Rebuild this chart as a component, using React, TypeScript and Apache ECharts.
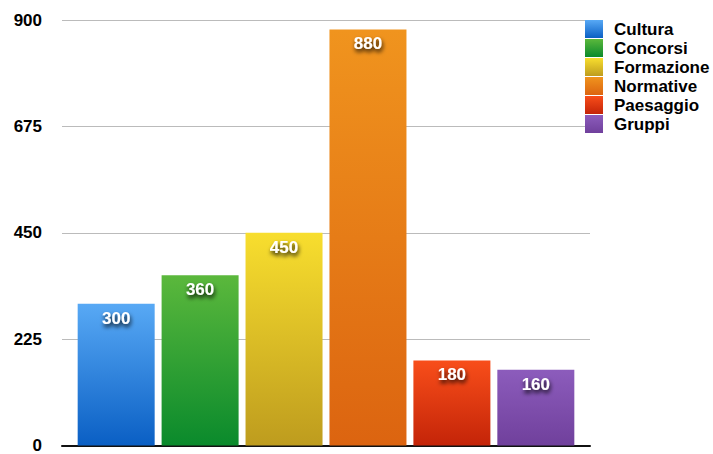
import React, { useEffect, useRef } from "react";
import * as echarts from "echarts";

const categories = ["Cultura", "Concorsi", "Formazione", "Normative", "Paesaggio", "Gruppi"];
const values = [300, 360, 450, 880, 180, 160];
const topColors = ["#58a9f5", "#5bb83c", "#f8de2e", "#f0941e", "#f84e1a", "#8c5cbc"];
const bottomColors = ["#0a5fc4", "#0a8a2c", "#be9c1e", "#dc6410", "#c42408", "#70409c"];
const yTicks = [0, 225, 450, 675, 900];

export default function App() {
  const ref = useRef<HTMLDivElement>(null);
  useEffect(() => {
    if (!ref.current) return;
    const chart = echarts.init(ref.current, undefined, { renderer: "svg" });
    const font = "'Liberation Sans', Arial, Helvetica, sans-serif";
    const series = categories.map((name, i) => ({
      name,
      type: "bar",
      data: [values[i]],
      barWidth: 77,
      barGap: "9%",
      itemStyle: {
        color: new echarts.graphic.LinearGradient(0, 0, 0, 1, [
          { offset: 0, color: topColors[i] },
          { offset: 1, color: bottomColors[i] },
        ]),
      },
      label: {
        show: true,
        position: "insideTop",
        distance: 6,
        color: "#ffffff",
        fontFamily: font,
        fontWeight: "bold",
        fontSize: 17,
        textShadowColor: "rgba(0,0,0,0.9)",
        textShadowBlur: 4,
        textShadowOffsetX: 1,
        textShadowOffsetY: 3,
      },
    }));
    chart.setOption({
      animation: false,
      backgroundColor: "#ffffff",
      grid: { left: 62, width: 528, top: 20, bottom: 2, containLabel: false },
      legend: {
        orient: "vertical",
        left: 585,
        top: 20,
        padding: 0,
        itemWidth: 18,
        itemHeight: 18,
        itemGap: 1,
        icon: "rect",
        data: categories,
        textStyle: {
          color: "#000",
          fontFamily: font,
          fontWeight: "bold",
          fontSize: 17,
          padding: [0, 0, 0, 6],
        },
      },
      xAxis: {
        type: "category",
        data: [""],
        axisLine: { show: true, lineStyle: { color: "#111", width: 2 } },
        axisTick: { show: false },
        axisLabel: { show: false },
        splitLine: { show: false },
      },
      yAxis: {
        type: "value",
        min: yTicks[0],
        max: yTicks[yTicks.length - 1],
        interval: 225,
        axisLine: { show: false },
        axisTick: { show: false },
        axisLabel: {
          color: "#000",
          fontFamily: font,
          fontWeight: "bold",
          fontSize: 17,
          margin: 20,
        },
        splitLine: { lineStyle: { color: "#bbbbbb", width: 1 } },
      },
      series,
    });
    return () => chart.dispose();
  }, []);
  return <div ref={ref} style={{ width: 713, height: 454, position: "absolute", left: 0, top: 0 }} />;
}
